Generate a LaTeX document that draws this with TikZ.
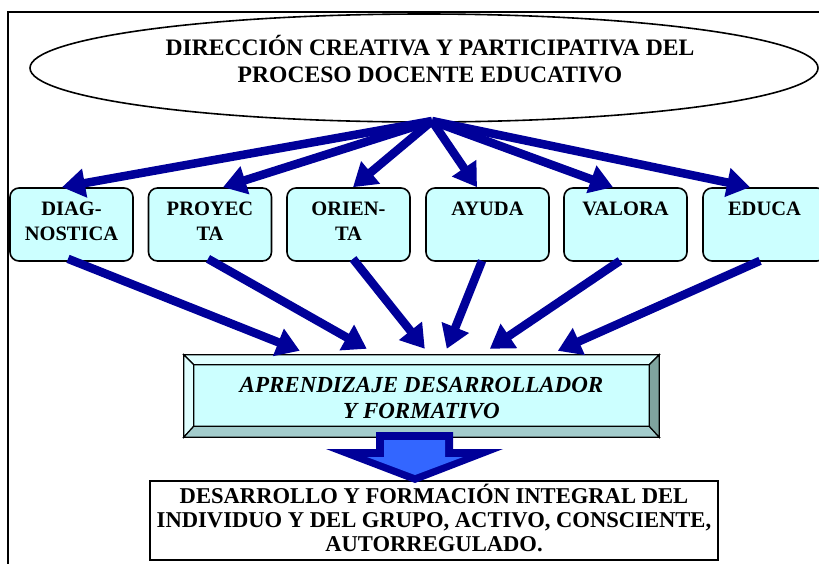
\documentclass[tikz,border=0pt]{standalone}
\usepackage{fontspec}
\setmainfont{Liberation Serif}
\usetikzlibrary{arrows.meta,calc,shapes.geometric}
\definecolor{navy}{HTML}{000099}
\definecolor{paleCyan}{HTML}{CCFFFF}
\definecolor{liteCyan}{HTML}{E0FFFF}
\definecolor{bevelB}{HTML}{A3CCCC}
\definecolor{bevelR}{HTML}{7FA39E}
\definecolor{arrowFill}{HTML}{3366FF}
\tikzset{
  topell/.style={draw=black, line width=1.6pt, ellipse, inner sep=0pt, minimum width=788pt, minimum height=108pt},
  tbox/.style={draw=black, line width=1.6pt, fill=paleCyan, rounded corners=9pt, inner sep=0pt, minimum width=123pt, minimum height=73pt},
  ttext/.style={font=\bfseries\fontsize{23.6}{27}\selectfont, align=center, inner sep=0pt, anchor=north},
  btext/.style={font=\bfseries\fontsize{20.5}{25}\selectfont, align=center, inner sep=0pt, anchor=north},
  atext/.style={font=\bfseries\itshape\fontsize{23}{26}\selectfont, align=center, inner sep=0pt, anchor=north},
  rtext/.style={font=\bfseries\fontsize{22.6}{24}\selectfont, align=center, inner sep=0pt, anchor=north},
  bigarrow/.style={draw=navy, line width=8.5pt, -{Triangle[length=23pt,width=28pt]}},
  bevel/.style={draw=black, line width=1.2pt, line join=miter},
}
\begin{document}
\begin{tikzpicture}[x=1pt,y=-1pt]
\useasboundingbox (0,0) rectangle (819,563);
% frame
\draw[line width=1.6pt] (8,570) -- (8,12) -- (830,12);
% top ellipse
\node[topell] (top) at (424,68) {};
\node[ttext] (toptext) at (430,35.5) {DIRECCIÓN CREATIVA Y PARTICIPATIVA DEL\\PROCESO DOCENTE EDUCATIVO};
\coordinate (apex) at (432,121);
% boxes
\node[tbox] (b1) at (71.5,224.5) {};
\node[tbox] (b2) at (210,224.5) {};
\node[tbox] (b3) at (348.5,224.5) {};
\node[tbox] (b4) at (487.5,224.5) {};
\node[tbox] (b5) at (625.5,224.5) {};
\node[tbox] (b6) at (764.5,224.5) {};
\node[btext] (t1) at ($(b1.north)+(0,15)$) {DIAG-\\NOSTICA};
\node[btext] (t2) at ($(b2.north)+(0,15)$) {PROYEC\\TA};
\node[btext] (t3) at ($(b3.north)+(0,15)$) {ORIEN-\\TA};
\node[btext] (t4) at ($(b4.north)+(0,15)$) {AYUDA};
\node[btext] (t5) at ($(b5.north)+(0,15)$) {VALORA};
\node[btext] (t6) at ($(b6.north)+(0,15)$) {EDUCA};
% aprendizaje box (bevelled)
\node[inner sep=0pt, minimum width=475pt, minimum height=82pt] (apr) at (421.5,396) {};
\fill[paleCyan] (apr.north west) rectangle (apr.south east);
\draw[bevel, fill=liteCyan] (apr.north west) -- (apr.north east) -- ($(apr.north east)+(-10,10)$) -- ($(apr.north west)+(10,10)$) -- cycle;
\draw[bevel, fill=liteCyan] (apr.north west) -- ($(apr.north west)+(10,10)$) -- ($(apr.south west)+(10,-11)$) -- (apr.south west) -- cycle;
\draw[bevel, fill=bevelB] (apr.south west) -- ($(apr.south west)+(10,-11)$) -- ($(apr.south east)+(-10,-11)$) -- (apr.south east) -- cycle;
\draw[bevel, fill=bevelR] (apr.north east) -- ($(apr.north east)+(-10,10)$) -- ($(apr.south east)+(-10,-11)$) -- (apr.south east) -- cycle;
\draw[bevel] ($(apr.north west)+(10,10)$) rectangle ($(apr.south east)+(-10,-11)$);
\node[atext] (atx) at (421.5,377) {APRENDIZAJE DESARROLLADOR\\Y FORMATIVO};
% result box
\node[draw=black, line width=1.8pt, inner sep=0pt, minimum width=568pt, minimum height=79pt] (res) at (434,520.5) {};
\node[rtext] (rtx) at (434,484) {DESARROLLO Y FORMACIÓN INTEGRAL DEL\\INDIVIDUO Y DEL GRUPO, ACTIVO, CONSCIENTE,\\AUTORREGULADO.};
% arrows from the top ellipse
\draw[bigarrow] (apex) -- ($(b1.north)+(-9.5,0)$);
\draw[bigarrow] (apex) -- ($(b2.north)+(13,0)$);
\draw[bigarrow] (apex) -- ($(b3.north)+(4.5,0)$);
\draw[bigarrow] (apex) -- ($(b4.north)+(-10.5,0)$);
\draw[bigarrow] (apex) -- ($(b5.north)+(-12.5,0)$);
\draw[bigarrow] (apex) -- ($(b6.north)+(-14.5,0)$);
% arrows to the aprendizaje box
\draw[bigarrow] ($(b1.south)+(-3.5,-3)$) -- ($(apr.north west)+(116,-4)$);
\draw[bigarrow] ($(b2.south)+(-2,-3)$) -- ($(apr.north west)+(183,-6)$);
\draw[bigarrow] ($(b3.south)+(4.5,-3)$) -- ($(apr.north west)+(241,-6)$);
\draw[bigarrow] ($(b4.south)+(-5.5,-1)$) -- ($(apr.north west)+(263,-6)$);
\draw[bigarrow] ($(b5.south)+(-5.5,-1)$) -- ($(apr.north west)+(306,-6)$);
\draw[bigarrow] ($(b6.south)+(-4.5,-1)$) -- ($(apr.north west)+(374,-4)$);
% block arrow from aprendizaje to result
\fill[navy] (376,432) -- (453,432) -- (453,449) -- (503,449) -- (415,483) -- (326,449) -- (376,449) -- cycle;
\fill[arrowFill] (384,440) -- (445,440) -- (445,457) -- (463,457) -- (415,475) -- (367,457) -- (384,457) -- cycle;
\end{tikzpicture}
\end{document}
